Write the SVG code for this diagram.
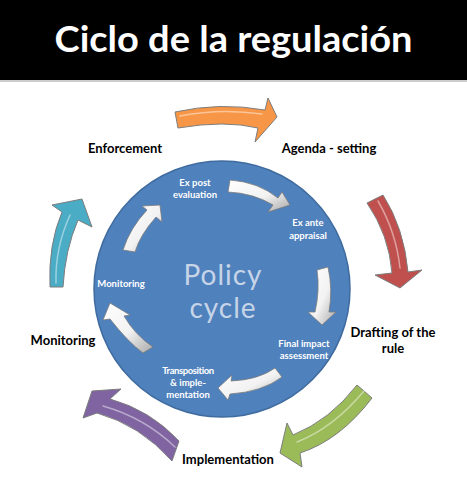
<svg xmlns="http://www.w3.org/2000/svg" width="467" height="477" viewBox="0 0 467 477">
<style>
.title{font-family:Lato,"Open Sans","Liberation Sans",sans-serif;font-weight:bold;font-size:36px;fill:#fff}
.outer{font-family:Lato,"Open Sans","Liberation Sans",sans-serif;font-weight:bold;font-size:13px;fill:#000}
.inner{font-family:Lato,"Open Sans","Liberation Sans",sans-serif;font-weight:bold;font-size:9.5px;fill:#fff}
.big{font-family:Lato,"Open Sans","Liberation Sans",sans-serif;font-size:28px;fill:#c6d4e8;letter-spacing:1px}
.oarrow{stroke:#7d7d7d;stroke-width:1;stroke-linejoin:round}
.iarrow{fill:url(#silver);stroke:#7a7a7a;stroke-width:0.8;stroke-linejoin:round}
.hl{fill:none;stroke:#fff;stroke-opacity:0.45;stroke-width:1.5;stroke-linecap:round}
</style>
<defs>
<linearGradient id="silver" x1="0" y1="0" x2="1" y2="1">
<stop offset="0" stop-color="#ffffff"/>
<stop offset="0.55" stop-color="#f2f2f2"/>
<stop offset="1" stop-color="#a8a8a8"/>
</linearGradient>
</defs>
<rect x="0" y="0" width="467" height="477" fill="#fff"/>
<g id="header">
<rect x="0" y="0" width="467" height="80" fill="#000"/>
<line x1="0" y1="81" x2="467" y2="81" stroke="#9a9a9a" stroke-width="1"/>
<text class="title" x="233.5" y="52" text-anchor="middle" textLength="358" lengthAdjust="spacingAndGlyphs">Ciclo de la regulación</text>
</g>
<g id="policy-cycle">
<circle cx="222" cy="289" r="128" fill="#4f81bd" stroke="#3f6b9f" stroke-width="1.5"/>
<text class="big" x="223" y="285" text-anchor="middle">Policy</text>
<text class="big" x="223" y="318" text-anchor="middle">cycle</text>
</g>
<g id="connectors">
<path class="oarrow" fill="#f79646" d="M175,112 Q220,102 265,110 L268,98 L277,117 L255,142 L258,128 Q225,120 178,128 Z"/>
<path class="hl" d="M180,116 Q220,108 262,114"/>
<path class="oarrow" fill="#c0504d" d="M383,195 Q404,228 408,272 L422,270 L400,288 L375,275 L392,273 Q389,235 367,203 Z"/>
<path class="hl" d="M378,201 Q396,232 400,268"/>
<path class="oarrow" fill="#9bbb59" d="M372,398 Q340,440 300,453 L302,467 L280,453 L287,423 L293,435 Q330,420 357,385 Z"/>
<path class="hl" d="M364,391 Q333,428 297,442"/>
<path class="oarrow" fill="#8064a2" d="M179,441 Q150,410 110,399 L121,389 L92,391 L83,418 L97,413 Q140,425 172,461 Z"/>
<path class="hl" d="M175,447 Q145,418 103,406"/>
<path class="oarrow" fill="#4bacc6" d="M50,287 Q48,245 62,212 L52,205 L82,199 L92,227 L78,220 Q65,250 63,287 Z"/>
<path class="hl" d="M56,283 Q55,248 70,215"/>
<path class="iarrow" d="M230,180 Q258,182 278,198 L282,192 L290,205 L268,212 L273,205 Q253,193 228,192 Z"/>
<path class="iarrow" d="M328,267 Q333,290 329,312 L336,312 L322,325 L308,312 L315,312 Q320,290 317,270 Z"/>
<path class="iarrow" d="M275,368 Q258,380 231,381 L232,375 L218,388 L228,400 L230,394 Q262,392 282,377 Z"/>
<path class="iarrow" d="M153,347 Q135,335 124,316 L130,315 L110,303 L103,320 L110,319 Q128,342 143,353 Z"/>
<path class="iarrow" d="M123,250 Q130,228 147,210 L142,206 L160,205 L162,222 L156,217 Q140,235 135,252 Z"/>
</g>
<g id="inner-labels">
<text class="inner" x="195" y="186" text-anchor="middle">Ex post</text>
<text class="inner" x="195" y="198" text-anchor="middle">evaluation</text>
<text class="inner" x="308" y="226" text-anchor="middle">Ex ante</text>
<text class="inner" x="308" y="239" text-anchor="middle">appraisal</text>
<text class="inner" x="121" y="287" text-anchor="middle">Monitoring</text>
<text class="inner" x="304" y="347" text-anchor="middle">Final impact</text>
<text class="inner" x="304" y="359" text-anchor="middle">assessment</text>
<text class="inner" x="188" y="374" text-anchor="middle" letter-spacing="-0.4">Transposition</text>
<text class="inner" x="188" y="386" text-anchor="middle">&amp; imple-</text>
<text class="inner" x="188" y="398" text-anchor="middle">mentation</text>
</g>
<g id="outer-labels">
<text class="outer" x="125" y="153" text-anchor="middle">Enforcement</text>
<text class="outer" x="329" y="153" text-anchor="middle">Agenda - setting</text>
<text class="outer" x="393" y="337" text-anchor="middle">Drafting of the</text>
<text class="outer" x="393" y="353" text-anchor="middle">rule</text>
<text class="outer" x="63" y="345" text-anchor="middle">Monitoring</text>
<text class="outer" x="228" y="464" text-anchor="middle">Implementation</text>
</g>
</svg>
